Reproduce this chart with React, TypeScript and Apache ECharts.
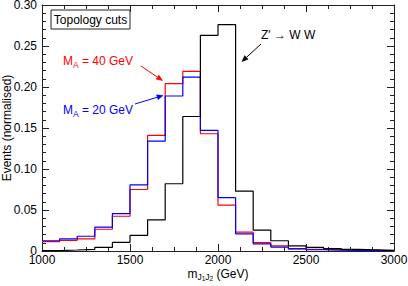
import React, { useEffect, useRef } from 'react';
import * as echarts from 'echarts';

// Bin edges (GeV) of the m_J1J2 histograms
const binEdges = [1000, 1100, 1200, 1300, 1400, 1500, 1600, 1700, 1800, 1900, 2000,
  2100, 2200, 2300, 2400, 2500, 2600, 2700, 2800, 2900, 3000];

// Normalised events per bin
const zPrimeWW = [0.0005, 0.0012, 0.002, 0.0045, 0.0105, 0.019, 0.038, 0.082, 0.164, 0.263,
  0.276, 0.073, 0.0255, 0.0125, 0.0062, 0.0043, 0.003, 0.002, 0.0015, 0.0008];
const mA40 = [0.0115, 0.013, 0.0148, 0.0265, 0.0424, 0.075, 0.141, 0.204, 0.219, 0.143,
  0.056, 0.023, 0.0102, 0.0062, 0.003, 0.002, 0.0015, 0.001, 0.0008, 0.0005];
const mA20 = [0.0125, 0.0147, 0.018, 0.029, 0.0456, 0.0806, 0.134, 0.189, 0.212, 0.147,
  0.065, 0.021, 0.0088, 0.0048, 0.0025, 0.0015, 0.001, 0.0008, 0.0006, 0.0004];

const FONT = 'Liberation Sans, Arial, Helvetica, sans-serif';

function stepData(values: number[]) {
  return binEdges.map((x, i) => [x, values[Math.min(i, values.length - 1)]]);
}

function arrow(x1: number, y1: number, x2: number, y2: number, color: string) {
  const dx = x2 - x1;
  const dy = y2 - y1;
  const len = Math.sqrt(dx * dx + dy * dy);
  const ux = dx / len;
  const uy = dy / len;
  const hl = 6;
  const hw = 2.5;
  const bx = x2 - ux * hl;
  const by = y2 - uy * hl;
  return [
    {
      type: 'line',
      shape: { x1, y1, x2: bx, y2: by },
      style: { stroke: color, lineWidth: 1 },
      silent: true,
    },
    {
      type: 'polygon',
      shape: {
        points: [
          [x2, y2],
          [bx - uy * hw, by + ux * hw],
          [bx + uy * hw, by - ux * hw],
        ],
      },
      style: { fill: color, stroke: color, lineWidth: 0.5 },
      silent: true,
    },
  ];
}

function massLabel(text: string, color: string, x: number, y: number) {
  return {
    type: 'text',
    x,
    y,
    silent: true,
    style: {
      text: `{M|M}{A|A}{t| = ${text}}`,
      fill: color,
      font: `12px ${FONT}`,
      verticalAlign: 'middle',
      align: 'left',
      rich: {
        M: { fontSize: 12, fontFamily: FONT, fill: color, lineHeight: 14 },
        A: { fontSize: 8.5, fontFamily: FONT, fill: color, verticalAlign: 'top', padding: [8, 0, 0, 0] },
        t: { fontSize: 12, fontFamily: FONT, fill: color, lineHeight: 14 },
      },
    },
  };
}

export default function App() {
  const ref = useRef<HTMLDivElement>(null);

  useEffect(() => {
    if (!ref.current) return;
    const chart = echarts.init(ref.current, undefined, { renderer: 'svg' });

    const axisCommon = {
      axisLine: { show: true, onZero: false, lineStyle: { color: '#222', width: 1 } },
      axisTick: { show: true, inside: true, length: 7, lineStyle: { color: '#222', width: 1 } },
      minorTick: { show: true, length: 4, lineStyle: { color: '#222', width: 1 } },
      splitLine: { show: false },
      minorSplitLine: { show: false },
    };

    const xCommon = {
      type: 'value',
      min: 1000,
      max: 3000,
      interval: 500,
      ...axisCommon,
      minorTick: { ...axisCommon.minorTick, splitNumber: 4 },
    };
    const yCommon = {
      type: 'value',
      min: 0,
      max: 0.3,
      interval: 0.05,
      ...axisCommon,
      minorTick: { ...axisCommon.minorTick, splitNumber: 5 },
    };

    const lineSeries = (name: string, values: number[], color: string) => ({
      name,
      type: 'line',
      step: 'end',
      data: stepData(values),
      symbol: 'none',
      silent: true,
      lineStyle: { color, width: 1.2 },
      xAxisIndex: 0,
      yAxisIndex: 0,
    });

    chart.setOption({
      animation: false,
      backgroundColor: '#fff',
      grid: {
        left: 42,
        right: 14,
        top: 5,
        bottom: 35,
        containLabel: false,
        outerBoundsMode: 'none',
      },
      xAxis: [
        {
          ...xCommon,
          position: 'bottom',
          name: '{m|m}{s|J}{ss|1}{s|J}{ss|2}{g| (GeV)}',
          nameLocation: 'middle',
          nameGap: 14,
          nameMoveOverlap: false,
          nameTextStyle: {
            fontFamily: FONT,
            fontSize: 12,
            color: '#000',
            rich: {
              m: { fontSize: 12, fontFamily: FONT, color: '#000', lineHeight: 14 },
              s: { fontSize: 8.5, fontFamily: FONT, color: '#000', verticalAlign: 'top', padding: [7, 0, 0, 0] },
              ss: { fontSize: 6.5, fontFamily: FONT, color: '#000', verticalAlign: 'top', padding: [10, 0, 0, 0] },
              g: { fontSize: 12, fontFamily: FONT, color: '#000', lineHeight: 14 },
            },
          },
          axisLabel: {
            show: true,
            margin: 3,
            fontFamily: FONT,
            fontSize: 12,
            color: '#000',
            formatter: (v: number) => String(v),
          },
        },
        {
          ...xCommon,
          position: 'top',
          axisLabel: { show: false },
        },
      ],
      yAxis: [
        {
          ...yCommon,
          position: 'left',
          name: 'Events (normalised)',
          nameLocation: 'middle',
          nameRotate: 90,
          nameGap: 29,
          nameMoveOverlap: false,
          nameTextStyle: { fontFamily: FONT, fontSize: 12, color: '#000' },
          axisLabel: {
            show: true,
            margin: 5,
            fontFamily: FONT,
            fontSize: 12,
            color: '#000',
            formatter: (v: number) => (v === 0 ? '0' : v.toFixed(2)),
          },
        },
        {
          ...yCommon,
          position: 'right',
          axisLabel: { show: false },
        },
      ],
      series: [
        lineSeries('M_A = 40 GeV', mA40, '#ff0000'),
        lineSeries('M_A = 20 GeV', mA20, '#0000ff'),
        lineSeries("Z' → W W", zPrimeWW, '#000000'),
      ],
      graphic: [
        {
          type: 'rect',
          shape: { x: 51, y: 10, width: 79, height: 19 },
          style: { fill: '#fff', stroke: '#222', lineWidth: 1 },
          silent: true,
        },
        {
          type: 'text',
          x: 90.5,
          y: 19.5,
          silent: true,
          style: {
            text: 'Topology cuts',
            font: `12px ${FONT}`,
            fill: '#000',
            align: 'center',
            verticalAlign: 'middle',
          },
        },
        massLabel('40 GeV', '#ff0000', 63, 61),
        massLabel('20 GeV', '#0000ff', 63, 110),
        {
          type: 'text',
          x: 261,
          y: 35,
          silent: true,
          style: {
            text: 'Z′ → W W',
            font: `12px ${FONT}`,
            fill: '#000',
            align: 'left',
            verticalAlign: 'middle',
          },
        },
        ...arrow(141, 66, 162.5, 80.5, '#ff0000'),
        ...arrow(135, 104, 163, 95.5, '#0000ff'),
        ...arrow(261, 44, 242, 61.5, '#000000'),
      ],
    });

    return () => chart.dispose();
  }, []);

  return (
    <div
      ref={ref}
      style={{ position: 'fixed', left: 0, top: 0, width: 408, height: 286 }}
    />
  );
}
